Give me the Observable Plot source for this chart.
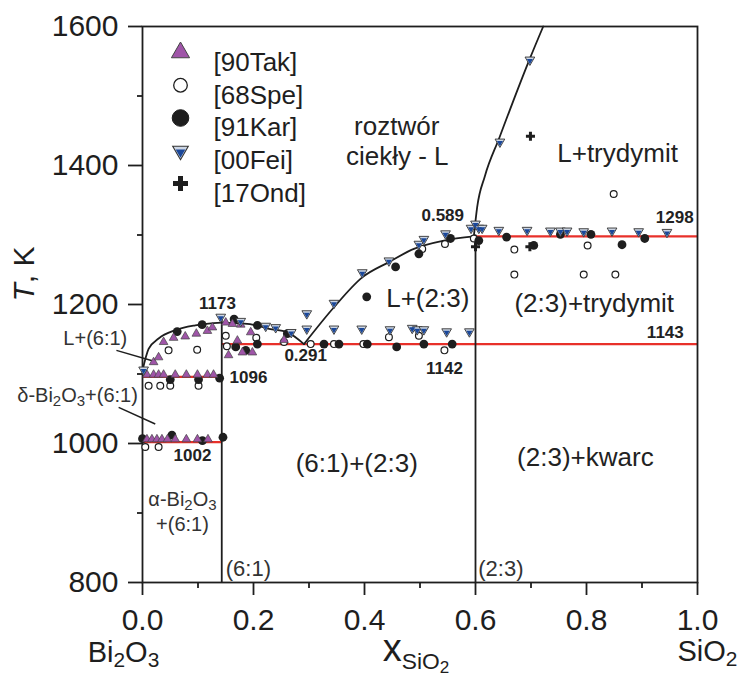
<!DOCTYPE html>
<html><head><meta charset="utf-8">
<script src="https://cdn.jsdelivr.net/npm/d3@7"></script>
<script src="https://cdn.jsdelivr.net/npm/@observablehq/plot@0.6"></script>
<style>body{margin:0;background:#fff;} svg{display:block}</style>
</head><body><div id="chart"></div>
<script>
// ---------------- data ----------------
const xTicks = [0, 0.2, 0.4, 0.6, 0.8, 1.0];
const xMinorTicks = [0.1, 0.3, 0.5, 0.7, 0.9];
const yTicks = [800, 1000, 1200, 1400, 1600];
const yMinorTicks = [900, 1100, 1300, 1500];

const sources = ["[90Tak]", "[68Spe]", "[91Kar]", "[00Fei]", "[17Ond]"];

// [90Tak] purple triangles
const takX = [0.008,0.020,0.029,0.038,0.059,0.079,0.099,0.117,0.128,
              0.008,0.017,0.026,0.035,0.045,0.059,0.079,0.099,0.118,
              0.020,0.029,0.038,0.056,0.077,0.097,0.117,0.126,0.150,0.162,0.177,0.195,0.155,0.180,0.198,0.255,0.171];
const takT = [1099,1099,1099,1099,1099,1099,1099,1099,1099,
              1006,1006,1006,1006,1006,1006,1006,1006,1006,
              1117,1124,1146,1152,1154,1158,1162,1167,1174,1172,1171,1160,1127,1131,1131,1149,1148];
// [68Spe] open circles
const speX = [0.047,0.0985,0.011,0.032,0.050,0.101,0.005,0.029,0.150,0.152,0.205,0.255,0.303,
              0.345,0.398,0.444,0.498,0.544,0.504,0.545,0.597,0.670,0.670,0.802,0.795,0.852,0.849];
const speT = [1134,1135,1083,1083,1083,1083,995,995,1155,1140,1152,1146,1143,
              1143,1143,1153,1155,1134,1280,1287,1295,1279,1243,1285,1243,1243,1359];
// [91Kar] black circles
const karX = [0.0625,0.1075,0.050,0.101,0.139,0.000,0.053,0.108,0.145,0.165,0.207,0.261,0.168,0.186,0.207,
              0.327,0.354,0.405,0.458,0.507,0.558,0.404,0.456,0.498,0.555,
              0.606,0.656,0.705,0.753,0.808,0.864,0.905];
const karT = [1161,1171,1092,1092,1094,1007,1012,1004,1009,1179,1170,1158,1139,1134,1143,
              1143,1143,1143,1139,1143,1143,1211,1254,1273,1295,
              1292,1297,1285,1301,1301,1286,1295];
// [00Fei] blue down-triangles
const feiX = [0.002,0.141,0.177,0.222,0.240,0.268,0.296,
              0.296,0.345,0.395,0.446,0.486,0.495,0.507,0.548,0.589,
              0.345,0.396,0.444,0.498,0.507,0.546,0.592,0.600,0.606,0.612,
              0.642,0.693,0.735,0.753,0.765,0.795,0.846,0.894,0.945,
              0.644,0.698];
const feiT = [1106,1182,1176,1169,1167,1160,1187,
              1165,1165,1165,1164,1166,1164,1164,1161,1161,
              1202,1246,1263,1287,1294,1302,1310,1316,1310,1310,
              1307,1307,1306,1306,1306,1305,1306,1305,1304,
              1434,1552];
// [17Ond] crosses
const ondX = [0.600, 0.698, 0.699];
const ondT = [1283, 1283, 1442];

// liquidus curves
const liqAx = [0, 0.011, 0.029, 0.059, 0.095, 0.1428];
const liqAT = [1105, 1136, 1151, 1163, 1170, 1174];
const liqBx = [0.1428, 0.17, 0.198, 0.228, 0.261, 0.291];
const liqBT = [1174, 1173, 1171, 1165, 1160, 1143];
const liqCx = [0.291, 0.345, 0.396, 0.444, 0.489, 0.543, 0.597];
const liqCT = [1143, 1196, 1239, 1261, 1280, 1292, 1298];
const liqDx = [0.597, 0.603, 0.617, 0.643, 0.670, 0.697, 0.722];
const liqDT = [1298, 1340, 1385, 1440, 1497, 1552, 1600];

// invariant (red) lines
const invT  = [1002, 1096, 1143, 1298];
const invX1 = [0, 0, 0.1428, 0.6];
const invX2 = [0.1428, 0.1428, 1, 1];

// compound lines
const compX = [0.1428, 0.6];
const compTop = [1177, 1300];

// labels
const bigLabels = ["roztwór", "ciekły - L", "L+trydymit", "L+(2:3)", "(2:3)+trydymit", "(2:3)+kwarc", "(6:1)+(2:3)"];
const bigX = [0.458, 0.459, 0.856, 0.514, 0.814, 0.798, 0.386];
const bigT = [1456, 1412, 1417, 1209, 1201, 980, 971];

const smallLabels = ["α-Bi2O3", "+(6:1)", "L+(6:1)", "δ-Bi2O3+(6:1)"];
const smallX = [0.072, 0.072, -0.085, -0.117];
const smallT = [920, 884, 1151, 1069];

const compLabels = ["(6:1)", "(2:3)"];
const compLX = [0.150, 0.605];
const compLT = [820, 820];

const valueLabels = ["1173", "1096", "1002", "0.291", "1142", "1143", "0.589", "1298"];
const valueX = [0.135, 0.191, 0.090, 0.294, 0.544, 0.942, 0.541, 0.959];
const valueT = [1201, 1095, 983, 1127, 1108, 1160, 1328, 1325];

const leadX1 = [-0.047, -0.043], leadT1 = [1134, 1052];
const leadX2 = [0.0175, 0.023],  leadT2 = [1119, 1028];

// rich text (subscripts / italics)
const richText = {
  "Bi2O3": [["Bi"], ["2", 0.72, 0.18], ["O"], ["3", 0.72, 0.18]],
  "SiO2": [["SiO"], ["2", 0.72, 0.18]],
  "xSiO2": [["x"], ["SiO", 0.6, 0.22], ["2", 0.45, 0.34]],
  "T, K": [["T", 1, 0, true], [", K"]],
  "α-Bi2O3": [["α-Bi"], ["2", 0.75, 0.2], ["O"], ["3", 0.75, 0.2]],
  "δ-Bi2O3+(6:1)": [["δ-Bi"], ["2", 0.75, 0.2], ["O"], ["3", 0.75, 0.2], ["+(6:1)"]]
};

// ---------------- helpers ----------------
const pts = (xs, ts) => xs.map((x, i) => ({x, T: ts[i]}));
const triUp = {draw(c, s) { const R = Math.sqrt(s / Math.PI); c.moveTo(0, -R); c.lineTo(R * 0.866, R * 0.5); c.lineTo(-R * 0.866, R * 0.5); c.closePath(); }};
const triDown = {draw(c, s) { const R = Math.sqrt(s / Math.PI); c.moveTo(0, R); c.lineTo(R * 0.866, -R * 0.5); c.lineTo(-R * 0.866, -R * 0.5); c.closePath(); }};
const triDownIn = {draw(c, s) { const R = Math.sqrt(s / Math.PI); const k = 0.62; const tip = R * 0.78; c.moveTo(0, tip); c.lineTo(R * 0.866 * k, tip - 1.5 * R * k); c.lineTo(-R * 0.866 * k, tip - 1.5 * R * k); c.closePath(); }};

const PURPLE = "#9f55a8", BLUE = "#1a4799", BLUELIGHT = "#cdd6e4", RED = "#e8302a", INK = "#1e1e1e";

const tak = pts(takX, takT), spe = pts(speX, speT), kar = pts(karX, karT), fei = pts(feiX, feiT), ond = pts(ondX, ondT);
const lines = [pts(liqAx, liqAT), pts(liqBx, liqBT), pts(liqCx, liqCT), pts(liqDx, liqDT)];
const inv = invT.map((T, i) => ({T, x1: invX1[i], x2: invX2[i]}));
const comp = compX.map((x, i) => ({x, top: compTop[i]}));
const lab = (t, xs, ts) => t.map((s, i) => ({s, x: xs[i], T: ts[i]}));

// legend marks
const legendSpec = [
  [{symbol: triUp, r: 10.5, fill: PURPLE, stroke: "#444", strokeWidth: 1}],
  [{symbol: "circle", r: 6.8, fill: "#fff", stroke: INK, strokeWidth: 1.3}],
  [{symbol: "circle", r: 8.3, fill: INK, stroke: INK, strokeWidth: 1}],
  [{symbol: triDown, r: 9, fill: BLUELIGHT, stroke: "#333", strokeWidth: 1.1}, {symbol: triDownIn, r: 9, fill: BLUE}],
  [{symbol: "cross", r: 6.3, fill: INK}]
];
const legendMarks = [];
sources.forEach((name, i) => {
  const dy = 26 + 32.75 * i;
  legendSpec[i].forEach(o => legendMarks.push(Plot.dot([0], {frameAnchor: "top-left", dx: 38, dy, ...o})));
  legendMarks.push(Plot.text([name], {frameAnchor: "top-left", dx: 71, dy, text: d => d, textAnchor: "start", fontSize: 26, fill: INK}));
});

const svg = Plot.plot({
  width: 744, height: 681,
  marginTop: 26, marginRight: 47, marginBottom: 99, marginLeft: 142,
  x: {domain: [0, 1]},
  y: {domain: [800, 1600]},
  style: {fontFamily: "'Liberation Sans', Arial, Helvetica, sans-serif", color: INK, background: "#fff", overflow: "visible"},
  marks: [
    Plot.ruleY(inv, {y: "T", x1: "x1", x2: "x2", stroke: RED, strokeWidth: 2.2}),
    Plot.ruleX(comp, {x: "x", y1: 800, y2: "top", stroke: INK, strokeWidth: 1.8}),
    ...lines.map(l => Plot.line(l, {x: "x", y: "T", curve: "monotone-x", stroke: INK, strokeWidth: 1.8})),
    Plot.link(leadX1.map((x, i) => ({x1: x, y1: leadT1[i], x2: leadX2[i], y2: leadT2[i]})), {x1: "x1", y1: "y1", x2: "x2", y2: "y2", stroke: INK, strokeWidth: 1.5}),
    Plot.frame({stroke: INK, strokeWidth: 1.8}),
    Plot.axisY(yTicks, {tickSize: 14, tickPadding: 10, fontSize: 30, tickFormat: d => String(d), label: null, strokeWidth: 1.8}),
    Plot.axisY(yMinorTicks, {tickSize: 5, tickFormat: () => "", label: null, strokeWidth: 1.8}),
    Plot.axisX(xTicks, {tickSize: 13, tickPadding: 13, fontSize: 30, tickFormat: d3.format(".1f"), label: null, strokeWidth: 1.8}),
    Plot.axisX(xMinorTicks, {tickSize: 6, tickFormat: () => "", label: null, strokeWidth: 1.8}),
    Plot.dot(spe, {x: "x", y: "T", r: 3.4, fill: "#fff", stroke: INK, strokeWidth: 1.2}),
    Plot.dot(kar, {x: "x", y: "T", r: 4.4, fill: INK}),
    Plot.dot(tak, {x: "x", y: "T", symbol: triUp, r: 5, fill: PURPLE, stroke: "#444", strokeWidth: 0.7}),
    Plot.dot(fei, {x: "x", y: "T", symbol: triDown, r: 5.6, fill: BLUELIGHT, stroke: "#333", strokeWidth: 0.9}),
    Plot.dot(fei, {x: "x", y: "T", symbol: triDownIn, r: 5.6, fill: BLUE}),
    Plot.dot(ond, {x: "x", y: "T", symbol: "cross", r: 3.8, fill: INK}),
    Plot.text(lab(bigLabels, bigX, bigT), {x: "x", y: "T", text: "s", fontSize: 26, fill: "#222"}),
    Plot.text(lab(smallLabels, smallX, smallT), {x: "x", y: "T", text: "s", fontSize: 20, fill: "#333"}),
    Plot.text(lab(compLabels, compLX, compLT), {x: "x", y: "T", text: "s", fontSize: 22, textAnchor: "start", fill: "#333"}),
    Plot.text(lab(valueLabels, valueX, valueT), {x: "x", y: "T", text: "s", fontSize: 17, fontWeight: "bold", fill: "#222"}),
    Plot.text(["Bi2O3"], {x: () => 0, text: d => d, frameAnchor: "bottom", dx: -19, dy: 79, fontSize: 29, fill: INK}),
    Plot.text(["SiO2"], {x: () => 1, text: d => d, frameAnchor: "bottom", dx: 10, dy: 78, fontSize: 29, fill: INK}),
    Plot.text(["xSiO2"], {x: () => 0.5, text: d => d, frameAnchor: "bottom", dx: -4, dy: 78, fontSize: 38, fill: INK}),
    Plot.text(["T, K"], {text: d => d, frameAnchor: "left", dx: -118, dy: -3, rotate: -90, fontSize: 30, fill: INK}),
    ...legendMarks
  ]
});
document.getElementById("chart").append(svg);

// rich-text post-processing (subscripts, italics)
svg.querySelectorAll("text").forEach(t => {
  const spec = richText[t.textContent];
  if (!spec) return;
  const fs = parseFloat(getComputedStyle(t).fontSize);
  t.textContent = "";
  let shift = 0;
  for (const [str, size = 1, sh = 0, ital = false] of spec) {
    const ts = document.createElementNS("http://www.w3.org/2000/svg", "tspan");
    const target = sh * fs;
    ts.setAttribute("dy", (target - shift).toFixed(2));
    shift = target;
    ts.setAttribute("font-size", (size * fs).toFixed(2));
    if (ital) ts.setAttribute("font-style", "italic");
    ts.textContent = str;
    t.append(ts);
  }
});
</script>
</body></html>
